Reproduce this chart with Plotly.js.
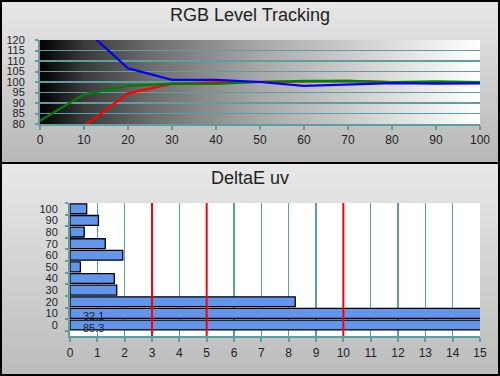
<!DOCTYPE html>
<html>
<head>
<meta charset="utf-8">
<script src="https://cdn.plot.ly/plotly-3.0.1.min.js"></script>
<style>
  html, body { margin: 0; padding: 0; }
  body { width: 500px; height: 376px; position: relative; overflow: hidden; }
  #bgTop { position: absolute; left: 0; top: 0; width: 500px; height: 164px;
           background: linear-gradient(#e8e8e8, #b6b6b6); }
  #bgBot { position: absolute; left: 0; top: 164px; width: 500px; height: 212px;
           background: linear-gradient(#e8e8e8, #bcbcbc); }
  #frame { position: absolute; left: 0; top: 0; width: 496px; height: 372px;
           border: 2px solid #000; pointer-events: none; }
  #sep { position: absolute; left: 0; top: 162px; width: 500px; height: 2px; background: #000; }
  #chart { position: absolute; left: 0; top: 0; width: 500px; height: 376px; }
</style>
</head>
<body>
<div id="bgTop"></div>
<div id="bgBot"></div>
<div id="chart"></div>
<div id="sep"></div>
<div id="frame"></div>
<script>
// ---- data ----
const levels = [0, 10, 20, 30, 40, 50, 60, 70, 80, 90, 100];
const redLevel   = [60, 79, 94.6, 99.2, 99.8, 100, 100.3, 100.5, 100, 100, 99.9];
const greenLevel = [81.5, 94.1, 98.2, 99.2, 99.1, 100, 100.5, 100.5, 100, 100.3, 100];
const blueLevel  = [200, 125.5, 106.5, 101, 101, 100, 98.2, 99, 99.5, 99.2, 99.3];

const deltaCategories = ["0", "10", "20", "30", "40", "50", "60", "70", "80", "90", "100"];
const deltaValues = [85.3, 32.1, 8.24, 1.71, 1.62, 0.38, 1.93, 1.29, 0.52, 1.04, 0.61];
const thresholds = [3, 5, 10];
const deltaMax = 15;

const teal = "#5f9ea0";
const tickFont = {family: "Liberation Sans, Arial, sans-serif", size: 12, color: "#222"};
const yTickFont = {family: "Liberation Sans, Arial, sans-serif", size: 11, color: "#222"};

const traces = [
  {x: levels, y: redLevel, type: "scatter", mode: "lines", line: {color: "#ff0000", width: 2.2}, xaxis: "x", yaxis: "y", hoverinfo: "skip"},
  {x: levels, y: greenLevel, type: "scatter", mode: "lines", line: {color: "#008000", width: 2.2}, xaxis: "x", yaxis: "y", hoverinfo: "skip"},
  {x: levels, y: blueLevel, type: "scatter", mode: "lines", line: {color: "#0000ff", width: 2.2}, xaxis: "x", yaxis: "y", hoverinfo: "skip"},
  {x: deltaValues, y: deltaCategories, type: "bar", orientation: "h", xaxis: "x2", yaxis: "y2",
   marker: {color: "#6495ed", line: {color: "#000", width: 1.3}}, hoverinfo: "skip"}
];

const gradSvg = '<svg xmlns="http://www.w3.org/2000/svg" width="100" height="10" preserveAspectRatio="none">' +
  '<defs><linearGradient id="g" x1="0" x2="1" y1="0" y2="0">' +
  '<stop offset="0" stop-color="#000"/><stop offset="0.1" stop-color="#3a3a3a"/>' +
  '<stop offset="0.25" stop-color="#6c6c6c"/><stop offset="0.5" stop-color="#a8a8a8"/>' +
  '<stop offset="0.75" stop-color="#d4d4d4"/><stop offset="1" stop-color="#fff"/>' +
  '</linearGradient></defs><rect width="100" height="10" fill="url(#g)"/></svg>';

const shapes = thresholds.map(t => ({
  type: "line", xref: "x2", yref: "y2 domain", x0: t, x1: t, y0: 0, y1: 1,
  line: {color: "#ff0000", width: 2}, layer: "above"
}));

const annotations = [
  {text: "RGB Level Tracking", xref: "paper", yref: "paper", x: 0.5, y: 1 - 15/376, showarrow: false,
   font: {family: "Liberation Sans, Arial, sans-serif", size: 18, color: "#222"}, xanchor: "center", yanchor: "middle"},
  {text: "DeltaE uv", xref: "paper", yref: "paper", x: 0.5, y: 1 - 178/376, showarrow: false,
   font: {family: "Liberation Sans, Arial, sans-serif", size: 18, color: "#222"}, xanchor: "center", yanchor: "middle"}
];
deltaValues.forEach((v, i) => {
  if (v > deltaMax) {
    annotations.push({text: v.toFixed(1), xref: "x2", yref: "y2", x: 0, y: i,
      xanchor: "left", yanchor: "middle", xshift: 11, yshift: -3, showarrow: false,
      font: {family: "Liberation Sans, Arial, sans-serif", size: 11, color: "#222"}});
  }
});

const layout = {
  width: 500, height: 376,
  margin: {l: 0, r: 0, t: 0, b: 0},
  paper_bgcolor: "rgba(0,0,0,0)",
  plot_bgcolor: "rgba(0,0,0,0)",
  showlegend: false,
  bargap: 0.15,
  xaxis: {domain: [40/500, 480/500], anchor: "y", range: [0, 100], dtick: 10, showgrid: false, zeroline: false,
          showline: true, linecolor: teal, linewidth: 2, ticks: "outside", ticklen: 4, tickwidth: 2, tickcolor: teal,
          tickfont: tickFont, ticklabelstandoff: 0, fixedrange: true},
  yaxis: {domain: [1 - 124/376, 1 - 40/376], anchor: "x", range: [80, 120], dtick: 5, showgrid: true,
          gridcolor: teal, gridwidth: 1.5, zeroline: false, showline: true, linecolor: teal, linewidth: 2,
          ticks: "outside", ticklen: 3, tickwidth: 2, tickcolor: teal, tickfont: yTickFont, ticklabelstandoff: 8, fixedrange: true},
  xaxis2: {domain: [70/500, 480/500], anchor: "y2", range: [0, deltaMax], dtick: 1, showgrid: true, gridcolor: teal,
           gridwidth: 1.5, zeroline: false, showline: true, linecolor: teal, linewidth: 2, ticks: "outside",
           ticklen: 4, tickwidth: 2, tickcolor: teal, tickfont: tickFont, ticklabelstandoff: 1, fixedrange: true},
  yaxis2: {domain: [1 - 336/376, 1 - 203/376], anchor: "x2", type: "category", categoryorder: "array",
           categoryarray: deltaCategories, tickmode: "array", tickvals: deltaCategories, ticktext: deltaCategories,
           showgrid: false, zeroline: false, showline: true, linecolor: teal,
           linewidth: 2, ticks: "outside", tickson: "boundaries", ticklen: 3, tickwidth: 2, tickcolor: teal,
           tickfont: yTickFont, ticklabelstandoff: 8, fixedrange: true},
  shapes: shapes.concat([{type: "rect", xref: "x2 domain", yref: "y2 domain", x0: 0, x1: 1, y0: 0, y1: 1,
           fillcolor: "#fff", line: {width: 0}, layer: "below"}]),
  images: [{source: "data:image/svg+xml;base64," + btoa(gradSvg), xref: "x", yref: "y", x: 0, y: 120,
            sizex: 100, sizey: 40, sizing: "stretch", xanchor: "left", yanchor: "top", layer: "below"}],
  annotations: annotations
};

Plotly.newPlot("chart", traces, layout, {displayModeBar: false, staticPlot: true});
</script>
</body>
</html>
